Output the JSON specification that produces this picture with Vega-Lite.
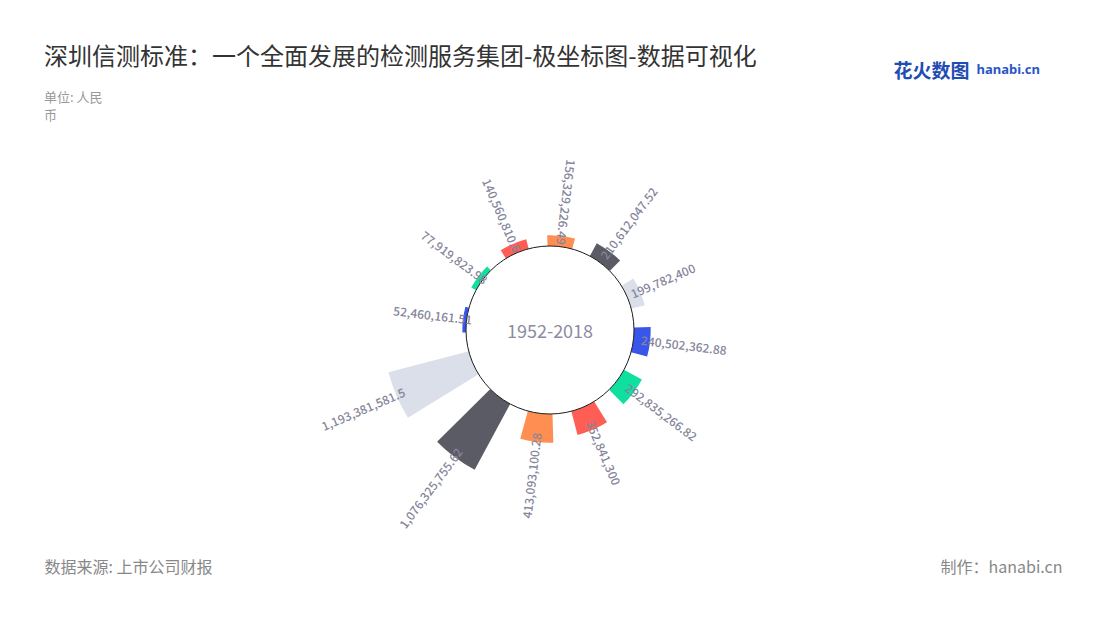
{
  "$schema": "https://vega.github.io/schema/vega-lite/v6.json",
  "width": 1100,
  "height": 580,
  "autosize": {"type": "none"},
  "padding": {"top": 40, "left": 0, "right": 0, "bottom": 0},
  "background": "#ffffff",
  "config": {"view": {"stroke": null}, "font": "Noto Sans CJK SC"},
  "title": {
    "text": "深圳信测标准：一个全面发展的检测服务集团-极坐标图-数据可视化",
    "subtitle": ["单位: 人民", "币"],
    "anchor": "start",
    "frame": "group",
    "dx": 44,
    "offset": -86,
    "font": "Noto Sans CJK SC",
    "fontSize": 24,
    "fontWeight": "normal",
    "color": "#333333",
    "subtitleFont": "Noto Sans CJK SC",
    "subtitleFontSize": 13,
    "subtitleColor": "#999999",
    "subtitlePadding": 22,
    "subtitleLineHeight": 18
  },
  "data": {
    "values": [
      {"item": 1, "value": 156329226.49},
      {"item": 2, "value": 210612047.52},
      {"item": 3, "value": 199782400},
      {"item": 4, "value": 240502362.88},
      {"item": 5, "value": 292835266.82},
      {"item": 6, "value": 352841300},
      {"item": 7, "value": 413093100.28},
      {"item": 8, "value": 1076325755.62},
      {"item": 9, "value": 1193381581.5},
      {"item": 10, "value": 52460161.51},
      {"item": 11, "value": 77919823.98},
      {"item": 12, "value": 140560810.6}
    ]
  },
  "layer": [
    {
      "mark": {"type": "arc"},
      "encoding": {
        "theta": {
          "field": "item",
          "type": "ordinal",
          "scale": {"type": "band", "range": [-0.1431, 6.1401], "paddingInner": 0.4333, "paddingOuter": 0.2167}
        },
        "radius": {
          "field": "value",
          "type": "quantitative",
          "scale": {"type": "linear", "domain": [0, 1193381581.5], "range": [84, 167], "nice": false, "zero": true}
        },
        "radius2": {"datum": 0},
        "color": {
          "field": "item",
          "type": "ordinal",
          "scale": {"range": ["#ff8e52", "#5b5b66", "#dadfea", "#3856ea", "#0fe0a0", "#ff5e55", "#ff8e52", "#5b5b66", "#dadfea", "#3856ea", "#0fe0a0", "#ff5e55"]},
          "legend": null
        }
      }
    },
    {
      "data": {"values": [{"k": 0}]},
      "mark": {"type": "arc", "radius": 84, "theta": 0, "theta2": 6.2832, "fill": "#ffffff", "stroke": "#1a1a1a", "strokeWidth": 1},
      "encoding": {}
    },
    {
      "data": {"values": [{"label": "1952-2018"}]},
      "mark": {"type": "text", "fontSize": 18, "color": "#8c8ca0", "font": "Noto Sans CJK SC", "baseline": "middle", "dy": 3},
      "encoding": {"text": {"field": "label", "type": "nominal"}}
    },
    {
      "transform": [{"filter": {"field": "item", "oneOf": [2, 3, 4, 5, 6]}}],
      "mark": {"type": "text", "align": "left", "baseline": "middle", "radiusOffset": -9, "fontSize": 12, "fontWeight": 500, "color": "#85859b", "font": "Noto Sans CJK SC"},
      "encoding": {
        "theta": {"field": "item", "type": "ordinal", "bandPosition": 0.5},
        "radius": {"field": "value", "type": "quantitative"},
        "angle": {"field": "item", "type": "quantitative", "scale": {"domain": [0, 12], "range": [-113.2, 246.8], "zero": false, "nice": false}},
        "text": {"field": "value", "type": "quantitative", "format": ",.2~f"}
      }
    },
    {
      "transform": [{"filter": {"field": "item", "oneOf": [1, 7, 8, 9, 10, 11, 12]}}],
      "mark": {"type": "text", "align": "right", "baseline": "middle", "radiusOffset": -9, "fontSize": 12, "fontWeight": 500, "color": "#85859b", "font": "Noto Sans CJK SC"},
      "encoding": {
        "theta": {"field": "item", "type": "ordinal", "bandPosition": 0.5},
        "radius": {"field": "value", "type": "quantitative"},
        "angle": {"field": "item", "type": "quantitative", "scale": {"domain": [0, 12], "range": [66.8, 426.8], "zero": false, "nice": false}},
        "text": {"field": "value", "type": "quantitative", "format": ",.2~f"}
      }
    },
    {
      "data": {"values": [{"k": 0}]},
      "mark": {"type": "point", "opacity": 0},
      "encoding": {
        "x": {"datum": 0, "type": "quantitative", "axis": {"orient": "bottom", "title": "数据来源: 上市公司财报", "labels": false, "ticks": false, "domain": false, "grid": false, "titleX": 44, "titleY": -53, "titleAlign": "left", "titleAngle": 0, "titleBaseline": "middle", "titleFont": "Noto Sans CJK SC", "titleFontSize": 16, "titleFontWeight": "normal", "titleColor": "#888888"}},
        "y": {"datum": 0, "type": "quantitative", "axis": {"orient": "right", "title": "制作：hanabi.cn", "labels": false, "ticks": false, "domain": false, "grid": false, "titleX": -38, "titleY": 527, "titleAlign": "right", "titleAngle": 0, "titleBaseline": "middle", "titleFont": "Noto Sans CJK SC", "titleFontSize": 16, "titleFontWeight": "normal", "titleColor": "#888888"}}
      }
    },
    {
      "data": {"values": [{"k": 0}]},
      "mark": {"type": "point", "opacity": 0},
      "encoding": {
        "x": {"datum": 0, "type": "quantitative", "axis": {"orient": "top", "title": "hanabi.cn", "labels": false, "ticks": false, "domain": false, "grid": false, "titleX": 976, "titleY": 29, "titleAlign": "left", "titleAngle": 0, "titleBaseline": "middle", "titleFont": "Noto Sans", "titleFontSize": 13, "titleFontWeight": "bold", "titleColor": "#2a55c8"}},
        "y": {"datum": 0, "type": "quantitative", "axis": {"orient": "left", "title": "花火数图", "labels": false, "ticks": false, "domain": false, "grid": false, "titleX": 893, "titleY": 31, "titleAlign": "left", "titleAngle": 0, "titleBaseline": "middle", "titleFont": "Noto Sans CJK SC", "titleFontSize": 19, "titleFontWeight": "bold", "titleColor": "#1f4db3"}}
      }
    }
  ],
  "resolve": {
    "scale": {"x": "independent", "y": "independent", "angle": "independent"},
    "axis": {"x": "independent", "y": "independent"}
  }
}
